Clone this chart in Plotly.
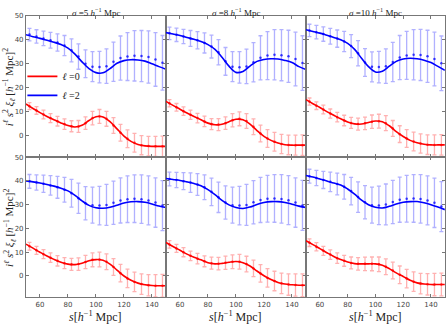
import plotly.graph_objects as go

# separations s [h^-1 Mpc]: smooth model curve and binned measurements
s_model = [50, 55, 60, 65, 70, 75, 80, 85, 90, 95, 100, 105, 110, 115, 120, 125, 130, 135, 140, 145, 150]
s_data = [52.5, 57.5, 62.5, 67.5, 72.5, 77.5, 82.5, 87.5, 92.5, 97.5, 102.5, 107.5,
          112.5, 117.5, 122.5, 127.5, 132.5, 137.5, 142.5, 147.5]

sigma_labels = ["5", "8", "10"]

# top row, model curves
top_l2_model = [
    [42.1, 41.3, 40.6, 39.8, 39.0, 38.0, 36.5, 34.0, 30.8, 28.0, 26.3, 26.2, 28.0, 30.2, 31.3, 31.7, 31.6, 31.1, 30.0, 28.8, 27.7],
    [43.0, 42.4, 41.8, 41.0, 40.2, 39.3, 38.0, 36.0, 32.7, 29.0, 26.4, 26.8, 29.0, 31.0, 31.8, 32.1, 32.0, 31.4, 30.5, 28.8, 27.6],
    [44.2, 43.5, 42.8, 41.9, 41.0, 40.0, 38.5, 36.0, 32.3, 28.8, 26.6, 26.9, 29.0, 31.0, 32.0, 32.3, 32.1, 31.5, 30.5, 28.9, 27.3],
]
top_l0_model = [
    [13.2, 11.3, 9.6, 8.0, 6.6, 5.3, 4.2, 3.6, 4.3, 6.3, 7.9, 7.8, 5.8, 2.8, -0.2, -2.4, -3.7, -4.3, -4.5, -4.5, -4.5],
    [14.3, 12.6, 11.0, 9.4, 8.0, 6.6, 5.2, 4.5, 4.7, 5.8, 6.8, 6.6, 4.8, 2.1, -0.3, -2.0, -3.1, -3.8, -4.0, -4.0, -4.0],
    [15.0, 13.3, 11.7, 10.0, 8.5, 7.0, 5.7, 4.9, 4.8, 5.5, 6.1, 5.8, 4.1, 1.6, -0.4, -2.0, -3.0, -3.6, -3.9, -3.9, -3.9],
]
# top row, measurements
top_l2_data = [
    [42.2, 41.4, 40.6, 39.8, 38.9, 37.6, 35.6, 33.0, 30.0, 28.8, 28.6, 29.0, 30.8, 32.4, 33.0, 33.3, 33.2, 32.8, 31.8, 30.4],
    [42.7, 42.1, 41.4, 40.6, 39.8, 38.7, 37.2, 34.8, 31.0, 28.8, 28.5, 28.9, 30.6, 32.5, 33.4, 33.8, 33.6, 33.1, 32.0, 30.3],
    [43.9, 43.2, 42.4, 41.5, 40.5, 39.3, 37.4, 34.4, 30.5, 28.7, 28.6, 29.0, 30.7, 32.6, 33.5, 33.8, 33.7, 33.1, 32.0, 30.2],
]
top_l0_data = [
    [12.3, 10.5, 8.8, 7.3, 6.0, 4.8, 3.9, 3.8, 5.2, 7.3, 8.0, 7.0, 4.2, 1.2, -1.3, -3.0, -4.0, -4.4, -4.5, -4.5],
    [13.5, 11.8, 10.2, 8.7, 7.3, 5.9, 4.8, 4.6, 5.2, 6.4, 7.0, 6.1, 3.7, 0.9, -1.2, -2.6, -3.5, -3.9, -4.0, -4.0],
    [14.2, 12.5, 10.9, 9.2, 7.7, 6.3, 5.3, 4.8, 5.1, 5.8, 6.0, 5.2, 3.0, 0.6, -1.2, -2.5, -3.3, -3.8, -3.9, -3.9],
]
top_l2_err = [2.6, 2.8, 3.0, 3.3, 3.6, 4.2, 4.8, 5.3, 5.8, 6.3, 6.6, 7.2, 8.2, 9.2, 10.0, 10.5, 10.7, 10.9, 11.2, 11.4]
top_l0_err = [1.5, 1.6, 1.8, 1.9, 2.0, 2.2, 2.3, 2.5, 2.6, 2.8, 2.9, 3.1, 3.3, 3.5, 3.7, 3.9, 4.0, 4.1, 4.2, 4.3]

# bottom row, model curves
bot_l2_model = [
    [40.0, 39.6, 39.1, 38.5, 37.8, 36.9, 35.8, 33.9, 31.6, 29.7, 28.7, 28.5, 28.9, 29.8, 30.7, 31.2, 31.3, 31.0, 30.3, 29.4, 28.8],
    [41.0, 40.6, 40.2, 39.6, 38.9, 38.0, 36.3, 34.2, 31.8, 29.9, 28.8, 28.4, 29.0, 30.1, 30.9, 31.3, 31.3, 30.9, 30.2, 29.4, 28.8],
    [42.3, 41.6, 40.8, 40.0, 39.1, 38.3, 36.6, 34.4, 31.9, 30.0, 28.9, 28.6, 29.3, 30.3, 31.0, 31.3, 31.3, 30.8, 30.0, 29.0, 27.9],
]
bot_l0_model = [
    [13.4, 11.7, 10.0, 8.4, 7.0, 5.8, 5.0, 4.8, 5.4, 6.4, 6.9, 6.6, 5.0, 2.5, 0.0, -1.8, -3.0, -3.7, -4.0, -4.1, -4.1],
    [14.1, 12.4, 10.8, 9.2, 7.9, 6.8, 5.6, 5.1, 5.3, 5.8, 6.1, 5.6, 4.2, 2.1, 0.1, -1.5, -2.7, -3.4, -3.7, -3.9, -3.9],
    [14.8, 13.2, 11.5, 9.8, 8.2, 6.9, 5.9, 5.2, 5.1, 5.1, 5.1, 4.5, 3.1, 1.3, -0.2, -1.8, -2.9, -3.4, -3.6, -3.6, -3.6],
]
# bottom row, measurements
bot_l2_data = [
    [39.8, 39.3, 38.8, 38.1, 37.3, 36.3, 34.8, 32.7, 30.6, 29.8, 29.6, 29.9, 30.8, 31.8, 32.3, 32.5, 32.3, 31.8, 30.9, 29.6],
    [40.8, 40.4, 39.9, 39.3, 38.5, 37.3, 35.4, 33.1, 30.9, 29.8, 29.6, 29.9, 31.0, 32.0, 32.5, 32.6, 32.4, 31.9, 30.9, 29.7],
    [42.0, 41.2, 40.4, 39.6, 38.7, 37.5, 35.7, 33.2, 31.0, 29.8, 29.7, 30.1, 31.1, 32.1, 32.5, 32.6, 32.4, 31.8, 30.8, 29.2],
]
bot_l0_data = [
    [12.5, 10.8, 9.2, 7.7, 6.4, 5.4, 4.9, 5.0, 5.9, 6.8, 6.9, 6.0, 3.8, 1.2, -1.0, -2.5, -3.4, -3.9, -4.1, -4.1],
    [13.3, 11.6, 10.0, 8.5, 7.3, 6.2, 5.4, 5.2, 5.6, 6.0, 6.0, 5.0, 3.2, 1.1, -0.8, -2.1, -3.1, -3.6, -3.8, -3.9],
    [14.0, 12.3, 10.6, 9.0, 7.5, 6.4, 5.5, 5.1, 5.1, 5.1, 4.9, 3.9, 2.3, 0.5, -1.1, -2.4, -3.2, -3.5, -3.6, -3.6],
]
bot_l2_err = [2.9, 3.2, 3.6, 4.1, 4.6, 5.2, 5.8, 6.4, 7.0, 7.6, 8.1, 8.6, 9.1, 9.5, 9.8, 10.0, 10.2, 10.3, 10.4, 10.5]
bot_l0_err = [1.6, 1.7, 1.9, 2.0, 2.2, 2.3, 2.5, 2.6, 2.8, 2.9, 3.1, 3.3, 3.5, 3.7, 3.9, 4.1, 4.3, 4.5, 4.7, 4.8]

W, H = 448, 325
SERIF = "Liberation Serif, DejaVu Serif, serif"
x_domains = [[0.058, 0.3705], [0.3705, 0.683], [0.683, 0.993]]
y_domains = [[0.523, 0.963], [0.086, 0.523]]

BLUE, RED = "#0000ff", "#ff0000"
BLUE_ERR, RED_ERR = "rgba(70,70,255,0.42)", "rgba(255,70,70,0.42)"
BLUE_DOT, RED_DOT = "rgba(0,0,255,0.75)", "rgba(255,0,0,0.75)"

fig = go.Figure()

rows = [
    (top_l0_model, top_l2_model, top_l0_data, top_l2_data, top_l0_err, top_l2_err),
    (bot_l0_model, bot_l2_model, bot_l0_data, bot_l2_data, bot_l0_err, bot_l2_err),
]

for r, (m0, m2, d0, d2, e0, e2) in enumerate(rows):
    for c in range(3):
        k = r * 3 + c + 1
        xa, ya = f"x{k}", f"y{k}"
        for data, err, ecol, dcol in ((d2[c], e2, BLUE_ERR, BLUE_DOT), (d0[c], e0, RED_ERR, RED_DOT)):
            fig.add_trace(go.Scatter(
                x=s_data, y=data, xaxis=xa, yaxis=ya, mode="markers",
                marker=dict(color=dcol, size=2.5),
                error_y=dict(type="data", array=err, color=ecol, thickness=1.3, width=2),
                showlegend=False, hoverinfo="skip",
            ))
        show = (k == 1)
        fig.add_trace(go.Scatter(
            x=s_model, y=m0[c], xaxis=xa, yaxis=ya, mode="lines",
            line=dict(color=RED, width=1.6, shape="spline"),
            name="<i>ℓ</i> =0", showlegend=show, legendrank=1,
        ))
        fig.add_trace(go.Scatter(
            x=s_model, y=m2[c], xaxis=xa, yaxis=ya, mode="lines",
            line=dict(color=BLUE, width=1.6, shape="spline"),
            name="<i>ℓ</i> =2", showlegend=show, legendrank=2,
        ))

        axis_common = dict(showline=True, linecolor="#777", linewidth=1, mirror="ticks",
                           ticks="inside", ticklen=3, tickcolor="#777", showgrid=False,
                           zeroline=False, tickfont=dict(size=7, color="#444", family="DejaVu Sans"))
        fig.layout[f"xaxis{k}"] = dict(
            axis_common, domain=x_domains[c], anchor=ya, range=[50, 150],
            tickvals=[60, 80, 100, 120, 140], showticklabels=(r == 1),
        )
        fig.layout[f"yaxis{k}"] = dict(
            axis_common, domain=y_domains[r], anchor=xa, range=[-9, 50],
            tickvals=[0, 10, 20, 30, 40, 50], showticklabels=(c == 0),
        )

annotations = []
for c, sig in enumerate(sigma_labels):
    xc = sum(x_domains[c]) / 2
    annotations.append(dict(
        text=f"<i>σ</i> ={sig} <i>h</i><sup>−1</sup> Mpc", x=xc, y=1.0, xref="paper", yref="paper",
        xanchor="center", yanchor="top", showarrow=False, font=dict(family=SERIF, size=9, color="#222"),
    ))
    annotations.append(dict(
        text="<i>s</i>[<i>h</i><sup>−1</sup> Mpc]", x=xc, y=0.026, xref="paper", yref="paper",
        xanchor="center", yanchor="middle", showarrow=False, font=dict(family=SERIF, size=12, color="#222"),
    ))
for r in range(2):
    yc = sum(y_domains[r]) / 2
    annotations.append(dict(
        text="<i>i</i><sup><i>ℓ</i></sup> <i>s</i><sup>2</sup> <i>ξ</i><sub><i>ℓ</i></sub> [<i>h</i><sup>−1</sup> Mpc]<sup>2</sup>",
        x=0.022, y=yc, xref="paper", yref="paper", textangle=-90,
        xanchor="center", yanchor="middle", showarrow=False, font=dict(family=SERIF, size=11, color="#222"),
    ))

fig.update_layout(
    width=W, height=H, margin=dict(l=0, r=0, t=0, b=0),
    paper_bgcolor="white", plot_bgcolor="white",
    annotations=annotations,
    legend=dict(x=0.05, y=0.745, xanchor="left", yanchor="middle", bgcolor="rgba(0,0,0,0)",
                font=dict(family=SERIF, size=10, color="#222"), tracegroupgap=0, itemwidth=30),
)

fig.write_html("out.html", config={"displayModeBar": False},
               post_script="document.body.style.margin='0';document.body.style.overflow='hidden';")
